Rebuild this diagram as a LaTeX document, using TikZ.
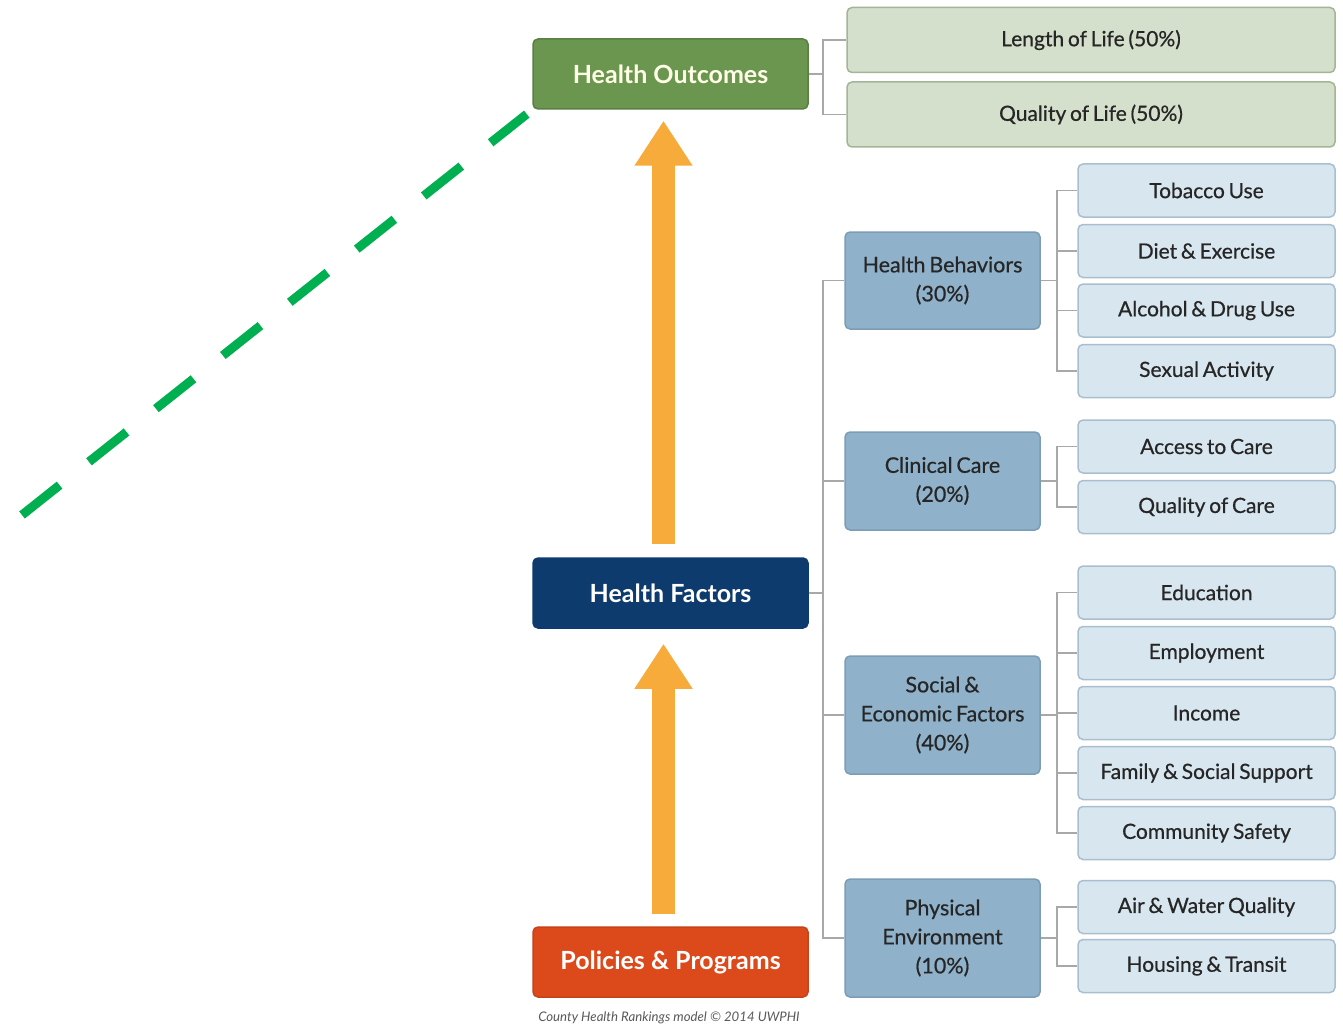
\documentclass[tikz,border=0pt]{standalone}
\usepackage{fontspec}
\setmainfont{Lato}
\newfontfamily\labelfont{Lato}[FakeBold=0.6,WordSpace=0.7]
\usetikzlibrary{arrows.meta}

\definecolor{outgreen}{HTML}{6B9650}
\definecolor{outgreenline}{HTML}{5A7F43}
\definecolor{lifegreen}{HTML}{D4E0CB}
\definecolor{lifegreenline}{HTML}{A3B597}
\definecolor{factorblue}{HTML}{0D3B6E}
\definecolor{policyred}{HTML}{DC4A1C}
\definecolor{groupblue}{HTML}{8FB2CA}
\definecolor{groupblueline}{HTML}{7B9DB6}
\definecolor{itemblue}{HTML}{D8E6EF}
\definecolor{itemblueline}{HTML}{A9BFCF}
\definecolor{linkgray}{HTML}{A8A8A8}
\definecolor{arroworange}{HTML}{F6AB3A}
\definecolor{dashgreen}{HTML}{00B050}

\begin{document}
\begin{tikzpicture}[x=1pt,y=-1pt,
  box/.style={rounded corners=5pt,line width=1.5pt,align=center,inner sep=0pt},
  mainbox/.style={box,minimum width=275pt,minimum height=70pt,text=white,
    font=\fontsize{25}{30}\selectfont\bfseries},
  lifebox/.style={box,fill=lifegreen,draw=lifegreenline,minimum width=488pt,
    minimum height=65pt,text=black!85,font=\labelfont\fontsize{21}{26}\selectfont},
  groupbox/.style={box,fill=groupblue,draw=groupblueline,minimum width=195pt,
    text=black!85,font=\labelfont\fontsize{21.5}{29}\selectfont},
  itembox/.style={box,fill=itemblue,draw=itemblueline,minimum width=257pt,
    minimum height=53pt,text=black!85,font=\labelfont\fontsize{21}{26}\selectfont},
  link/.style={draw=linkgray,line width=1.5pt},
  uparrow/.style={draw=arroworange,line width=23pt,
    -{Triangle[width=55pt,length=45pt]}},
  dashline/.style={draw=dashgreen,line width=9pt,dash pattern=on 48pt off 37.5pt}]

  \useasboundingbox[fill=white] (0,0) rectangle (1343,1027);

  % left column
  \node[mainbox,fill=outgreen,draw=outgreenline,text=white!90!yellow] (HO) at (670.5,74) {Health Outcomes};
  \node[mainbox,fill=factorblue,draw=factorblue] (HF) at (670.5,593) {Health Factors};
  \node[mainbox,fill=policyred,draw=policyred!90!black] (PP) at (670.5,962) {Policies \& Programs};
  \node[text=black!65,font=\fontsize{13.2}{16}\selectfont\itshape] (CR) at (669,1018)
    {County Health Rankings model \textcopyright\ 2014 UWPHI};

  \draw[uparrow,shorten <=13pt,shorten >=11pt] ([xshift=-7pt]HF.north) -- ([xshift=-7pt]HO.south);
  \draw[uparrow,shorten <=12pt,shorten >=15pt] ([xshift=-7pt]PP.north) -- ([xshift=-7pt]HF.south);

  % outcomes
  \node[lifebox] (LL) at (1091,40) {Length of Life (50\%)};
  \node[lifebox] (QL) at (1091,114.5) {Quality of Life (50\%)};

  % factor groups
  \node[groupbox,minimum height=97pt] (HB) at (942.5,280.5) {Health Behaviors\\(30\%)};
  \node[groupbox,minimum height=98pt] (CC) at (942.5,481) {Clinical Care\\(20\%)};
  \node[groupbox,minimum height=118pt] (SE) at (942.5,715) {Social \&\\Economic Factors\\(40\%)};
  \node[groupbox,minimum height=118pt] (PE) at (942.5,938) {Physical\\Environment\\(10\%)};

  % factor items
  \node[itembox] (TU) at (1206.5,190.5) {Tobacco Use};
  \node[itembox] (DE) at (1206.5,251) {Diet \& Exercise};
  \node[itembox] (AD) at (1206.5,310.5) {Alcohol \& Drug Use};
  \node[itembox] (SA) at (1206.5,371) {Sexual Activity};
  \node[itembox] (AC) at (1206.5,446.5) {Access to Care};
  \node[itembox] (QC) at (1206.5,507) {Quality of Care};
  \node[itembox] (ED) at (1206.5,592.5) {Education};
  \node[itembox] (EM) at (1206.5,653) {Employment};
  \node[itembox] (IN) at (1206.5,713) {Income};
  \node[itembox] (FS) at (1206.5,773) {Family \& Social Support};
  \node[itembox] (CS) at (1206.5,833) {Community Safety};
  \node[itembox] (AW) at (1206.5,907) {Air \& Water Quality};
  \node[itembox] (HT) at (1206.5,966) {Housing \& Transit};

  % links
  \foreach \c in {LL,QL} \draw[link] (HO.east) -- ++(14,0) |- (\c.west);
  \foreach \c in {HB,CC,SE,PE} \draw[link] (HF.east) -- ++(14,0) |- (\c.west);
  \foreach \c in {TU,DE,AD,SA} \draw[link] (HB.east) -- ++(16,0) |- (\c.west);
  \foreach \c in {AC,QC} \draw[link] (CC.east) -- ++(16,0) |- (\c.west);
  \foreach \c in {ED,EM,IN,FS,CS} \draw[link] (SE.east) -- ++(16,0) |- (\c.west);
  \foreach \c in {AW,HT} \draw[link] (PE.east) -- ++(16,0) |- (\c.west);

  % green dashed line
  \coordinate (DS) at (22,515);
  \draw[dashline,shorten >=7pt] (DS) -- (HO.south west);

\end{tikzpicture}
\end{document}
